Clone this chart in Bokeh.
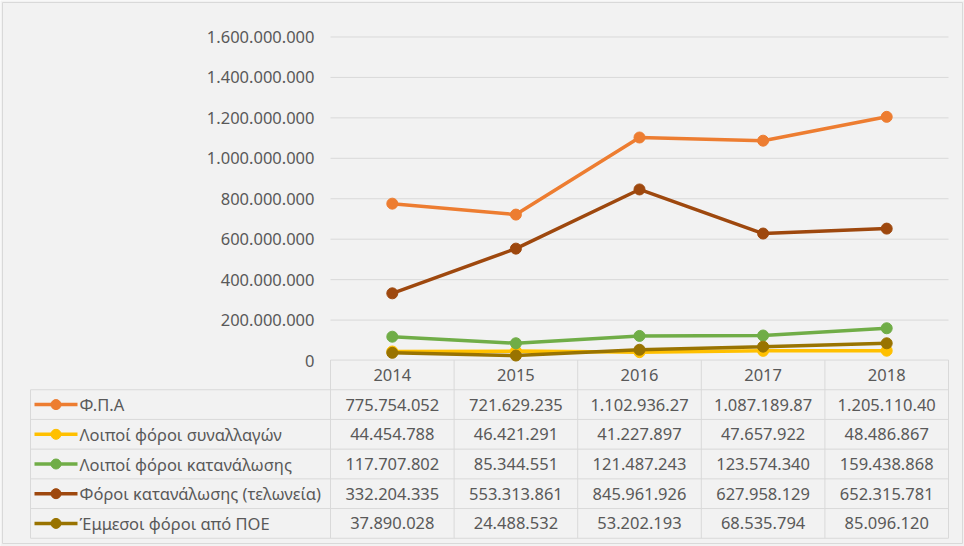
from bokeh.plotting import figure
from bokeh.models import Range1d
from bokeh.core.properties import value
from bokeh.embed import file_html
from bokeh.resources import INLINE

# ---------------- data ----------------
years = ["2014", "2015", "2016", "2017", "2018"]
series_names = [
    "Φ.Π.Α",
    "Λοιποί φόροι συναλλαγών",
    "Λοιποί φόροι κατανάλωσης",
    "Φόροι κατανάλωσης (τελωνεία)",
    "Έμμεσοι φόροι από ΠΟΕ",
]
fpa = [775754052, 721629235, 1102936270, 1087189870, 1205110400]
loipoi_synallagon = [44454788, 46421291, 41227897, 47657922, 48486867]
loipoi_katanalosis = [117707802, 85344551, 121487243, 123574340, 159438868]
foroi_teloneia = [332204335, 553313861, 845961926, 627958129, 652315781]
emmesoi_poe = [37890028, 24488532, 53202193, 68535794, 85096120]
y_ticks = [0, 200000000, 400000000, 600000000, 800000000,
           1000000000, 1200000000, 1400000000, 1600000000]
y_tick_labels = ["0", "200.000.000", "400.000.000", "600.000.000", "800.000.000",
                 "1.000.000.000", "1.200.000.000", "1.400.000.000", "1.600.000.000"]

series_values = [fpa, loipoi_synallagon, loipoi_katanalosis, foroi_teloneia, emmesoi_poe]
colors = ["#ED7D31", "#FFC000", "#70AD47", "#9E480E", "#997300"]

# ---------------- layout ----------------
W, H = 964, 546
PLOT_L, PLOT_R = 330, 948
COLW = (PLOT_R - PLOT_L) / 5.0
Y0_PX, YTOP_PX = 360.0, 36.5
VPP = 1600000000 / (Y0_PX - YTOP_PX)   # value per pixel
ROW0_PX, ROWH = 404.1, 29.7
TABLE_L = 30

def px2x(px):
    return (px - PLOT_L) / COLW - 0.5

def px2row(py):
    return (py - ROW0_PX) / ROWH

TXT = "#595959"
GRID = "#D9D9D9"
FONT = value("Noto Sans")
FS = "16.5px"

p = figure(width=W, height=H, output_backend="svg", toolbar_location=None,
           x_axis_location=None, y_axis_location=None,
           x_range=Range1d(px2x(0), px2x(W)),
           y_range=Range1d(px2row(H), px2row(0)),
           min_border=0, background_fill_color="#F2F2F2",
           border_fill_color="#F2F2F2", outline_line_color=None)
p.extra_y_ranges = {"val": Range1d((Y0_PX - H) * VPP, Y0_PX * VPP)}
p.xgrid.visible = False
p.ygrid.visible = False

# outer border
p.quad(left=[px2x(2)], right=[px2x(962)], top=[px2row(2)], bottom=[px2row(543)],
       fill_color=None, line_color=GRID, line_width=1)

# gridlines (value axis)
grid_vals = y_ticks[1:]
p.segment(x0=[-0.5] * len(grid_vals), x1=[4.5] * len(grid_vals),
          y0=grid_vals, y1=grid_vals, y_range_name="val",
          line_color=GRID, line_width=1)

# y tick labels
p.text(x=[px2x(314)] * len(y_ticks), y=y_ticks, text=y_tick_labels,
       y_range_name="val", text_align="right", text_baseline="middle",
       text_font=FONT, text_font_size=FS, text_color=TXT)

# table lines
nrows = len(series_names)
tl = px2x(TABLE_L)
# horizontal
hy = [-1.5] + [k - 0.5 for k in range(nrows + 1)]
hx0 = [-0.5] + [tl] * (nrows + 1)
p.segment(x0=hx0, x1=[4.5] * len(hy), y0=hy, y1=hy, line_color=GRID, line_width=1)
# vertical
vx = [tl] + [i - 0.5 for i in range(len(years) + 1)]
vy0 = [-0.5] + [-1.5] * (len(years) + 1)
p.segment(x0=vx, x1=vx, y0=vy0, y1=[nrows - 0.5] * len(vx), line_color=GRID, line_width=1)

# header years
p.text(x=list(range(len(years))), y=[-1] * len(years), text=years,
       text_align="center", text_baseline="middle",
       text_font=FONT, text_font_size=FS, text_color=TXT)

def fmt(v):
    s = f"{v:,}".replace(",", ".")
    return s[:12]  # cell clipping as in the source table

xs_idx = list(range(len(years)))
for k, (name, vals, col) in enumerate(zip(series_names, series_values, colors)):
    # series line + markers
    p.line(xs_idx, vals, y_range_name="val", line_color=col, line_width=3.5)
    p.scatter(xs_idx, vals, y_range_name="val", size=11, fill_color=col,
              line_color=col, marker="circle")
    # table row values
    p.text(x=xs_idx, y=[k] * len(years), text=[fmt(v) for v in vals],
           text_align="center", text_baseline="middle",
           text_font=FONT, text_font_size=FS, text_color=TXT)
    # legend key
    p.segment(x0=[px2x(34)], x1=[px2x(77)], y0=[k], y1=[k], line_color=col, line_width=3.5)
    p.scatter(x=[px2x(55.5)], y=[k], size=10, fill_color=col, line_color=col, marker="circle")
    p.text(x=[px2x(79)], y=[k], text=[name], text_align="left", text_baseline="middle",
           text_font=FONT, text_font_size=FS, text_color=TXT)

html = file_html(p, INLINE)
html = html.replace("</head>", "<style>html,body{margin:0;padding:0;}</style></head>", 1)
open("out.html", "w").write(html)
